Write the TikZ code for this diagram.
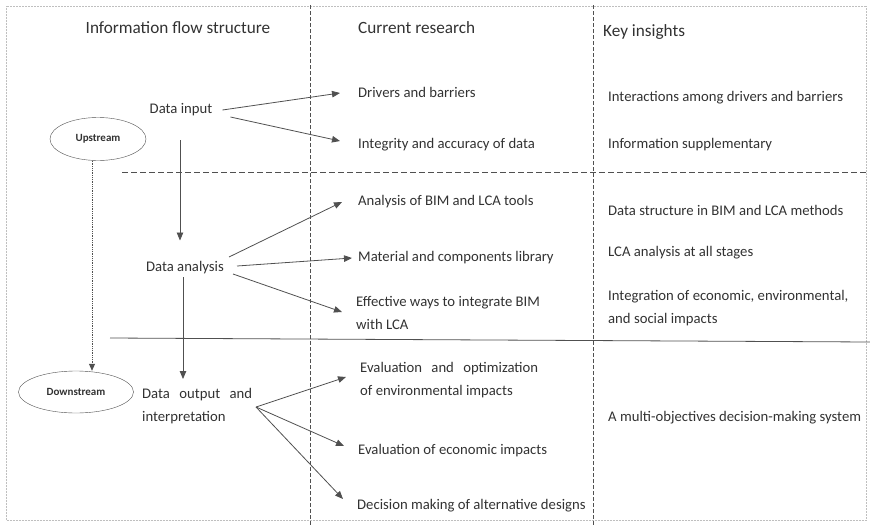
\documentclass[tikz,border=0pt]{standalone}
\usepackage{fontspec}
\setmainfont{Carlito}
\usetikzlibrary{arrows.meta,shapes.geometric}
\definecolor{inkgray}{RGB}{50,50,50}
\definecolor{linegray}{RGB}{80,80,80}

\begin{document}
\begin{tikzpicture}[x=1pt, y=-1pt,
        head/.style={anchor=west, inner sep=0pt, text=inkgray, font=\fontsize{17.2}{20}\selectfont},
        item/.style={anchor=west, inner sep=0pt, align=left, text=inkgray, font=\fontsize{14.7}{23}\selectfont},
        zone/.style={draw=linegray, ellipse, inner sep=0pt, text=inkgray, font=\fontsize{11}{12}\selectfont\bfseries},
        flow/.style={-{Triangle[length=8pt, width=6.5pt]}, draw=linegray, line width=0.8pt},
        upflow/.style={-{Triangle[length=7pt, width=6pt]}, draw=linegray, line width=0.8pt, densely dotted},
        split/.style={draw=linegray, line width=0.6pt, dash pattern=on 4pt off 2pt},
    ]
        \useasboundingbox (0,0) rectangle (870,525);

        % Frame and column / row separators
        \draw[gray!50, line width=0.5pt, densely dotted] (6,6) rectangle (866,520);
        \draw[split] (310,5) -- (310,525);
        \draw[split] (593,5) -- (593,525);
        \draw[split, dash pattern=on 6pt off 3pt] (122,172) -- (866,172);
        \draw[linegray, line width=0.8pt] (110,338) -- (870,342);

        % Column headers
        \node[head, anchor=center] (h1) at (178,28) {Information flow structure};
        \node[head] (h2) at (358,28) {Current research};
        \node[head] (h3) at (603,32) {Key insights};

        % Upstream / downstream
        \node[zone, minimum width=96pt, minimum height=43pt] (up) at (98,139) {Upstream};
        \node[zone, minimum width=115pt, minimum height=42pt] (dn) at (76,392) {Downstream};

        % Information flow stages
        \node[item, anchor=center] (din) at (181,110) {Data input};
        \node[item, anchor=center] (dan) at (185,268) {Data analysis};
        \node[item] (dout) at (142,406) {\makebox[110pt][s]{Data output and}\\interpretation};
        \coordinate (dout-r) at (256,407);

        % Current research
        \node[item] (drv) at (358,92) {Drivers and barriers};
        \node[item] (acc) at (358,145) {Integrity and accuracy of data};
        \node[item] (tool) at (358,202) {Analysis of BIM and LCA tools};
        \node[item] (lib) at (358,258) {Material and components library};
        \node[item] (way) at (356,313) {Effective ways to integrate BIM\\with LCA};
        \node[item] (env) at (360,380) {\makebox[178pt][s]{Evaluation and optimization}\\of environmental impacts};
        \node[item] (eco) at (358,451) {Evaluation of economic impacts};
        \node[item] (alt) at (357,506) {Decision making of alternative designs};

        % Key insights
        \node[item] (k1) at (608,98) {Interactions among drivers and barriers};
        \node[item] (k2) at (608,145) {Information supplementary};
        \node[item] (k3) at (608,210) {Data structure in BIM and LCA methods};
        \node[item] (k4) at (608,253) {LCA analysis at all stages};
        \node[item] (k5) at (608,308) {Integration of economic, environmental,\\and social impacts};
        \node[item] (k6) at (608,418) {A multi-objectives decision-making system};

        % Flow between stages
        \draw[upflow] ([xshift=-6pt]up.south) -- ([xshift=-6pt]up.south |- dn.north);
        \draw[flow] ([xshift=-1pt, yshift=-24pt]din.south) -- ([xshift=-5pt, yshift=21pt]dan.north);
        \draw[flow] ([xshift=-2pt, yshift=-3pt]dan.south) -- ([xshift=41pt, yshift=9pt]dout.north west);

        % Stages to research topics
        \draw[flow] ([xshift=10pt]din.east) -- ([xshift=-18pt, yshift=-1pt]drv.west);
        \draw[flow] ([xshift=18pt, yshift=-7pt]din.east) -- ([xshift=-18pt, yshift=4pt]acc.west);
        \draw[flow] ([xshift=5pt, yshift=11pt]dan.east) -- ([xshift=-16pt]tool.west);
        \draw[flow] ([xshift=13pt, yshift=2pt]dan.east) -- ([xshift=-6pt]lib.west);
        \draw[flow] ([xshift=9pt, yshift=-6pt]dan.east) -- ([xshift=-14pt, yshift=1pt]way.west);
        \foreach \t/\dy in {env/3, eco/5, alt/7}
            \draw[flow] (dout-r) -- ([xshift=-14pt, yshift=\dy pt]\t.west);
    \end{tikzpicture}
\end{document}
